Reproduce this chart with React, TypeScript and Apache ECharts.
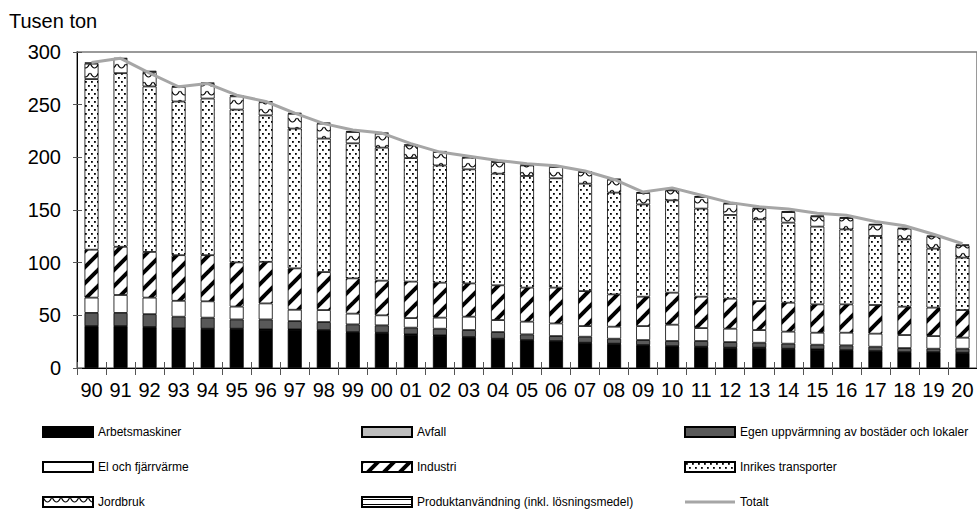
import React, { useEffect, useRef } from 'react';
import * as echarts from 'echarts';

const years = ['90','91','92','93','94','95','96','97','98','99','00','01','02','03','04','05','06','07','08','09','10','11','12','13','14','15','16','17','18','19','20'];

const arbetsmaskiner = [39.5,39.5,38.6,37.3,37,37,36.4,36.4,35.7,33.8,33.2,31.6,30.7,29.1,27.5,26.2,25.3,23.7,22.8,21.5,20.5,19.9,19,19,18,17.4,16.7,15.8,14.8,14.8,14.2];
const avfall = [0.3,0.3,0.3,0.3,0.3,0.3,0.3,0.3,0.3,0.3,0.3,0.3,0.3,0.3,0.3,0.3,0.3,0.3,0.3,0.3,0.3,0.3,0.3,0.3,0.3,0.3,0.3,0.3,0.3,0.3,0.3];
const egenUppvarmning = [12.5,12.5,12.2,11.1,10.5,8.8,9.4,7.8,7.6,7.3,7,6.4,6.3,6.6,6.3,5.4,4.7,5.7,4.7,4.7,4.8,5.4,5.3,4.7,4.8,4.4,4.5,4.1,3.8,3.2,3.8];
const elOchFjarrvarme = [14.5,17,15.7,15.1,15.5,12.2,15.2,10.8,11.4,10.2,9.5,9.1,10.5,12.7,11.4,12.1,12,10.1,11.4,13.3,15.5,12.3,12.7,12,11.4,11.4,12,12.4,12.4,12,10.5];
const industri = [45.5,45.8,43.4,43.3,43.8,42,39.5,39.3,36.1,33.5,32.9,34.6,33.2,31.6,33,32.3,34,33.2,30.7,27.9,30.4,29.8,28.5,27.5,27.5,26.9,26.9,27.2,26.9,27,26.2];
const inrikesTransporter = [162,164.8,157.1,145.9,148.7,145,139,132.7,126.7,128.2,126.3,117.3,111.3,108.3,106,106,103.8,102,96.6,87.6,87.7,83.6,79.5,77.6,76,73.8,71.2,65.5,63.9,56,49.8];
const jordbruk = [14.6,13.4,13.7,13.8,14.1,12.6,12.5,14,14.2,10.7,13.3,12,12.7,11.1,11,10,10.7,11,12.3,10.8,9.4,11,10.7,10.2,10,9.7,10.7,10.7,10.2,11.6,11.6];
const produktanvandning = [1.2,1.2,1.2,1.1,1.1,1.1,1.1,1,1,1,1,1,1,1,1,0.9,0.9,0.9,0.9,0.9,0.9,0.9,0.9,0.8,0.8,0.8,0.8,0.8,0.8,0.8,0.8];
const totalt = [290,294,280,267,270,259,253,242,232,226,223,213,205,201,197,194,192,187,179,167,171,164,157,153,151,147,145,139,135,127,118];

const yTicks = { min: 0, max: 300, interval: 50 };

const FONT = 'Arial, "Liberation Sans", Helvetica, sans-serif';

function makePattern(w: number, h: number, draw: (ctx: CanvasRenderingContext2D) => void) {
  const c = document.createElement('canvas');
  c.width = w;
  c.height = h;
  const ctx = c.getContext('2d') as CanvasRenderingContext2D;
  ctx.fillStyle = '#ffffff';
  ctx.fillRect(0, 0, w, h);
  draw(ctx);
  return { image: c, repeat: 'repeat', imageWidth: w, imageHeight: h } as any;
}

export default function App() {
  const ref = useRef<HTMLDivElement>(null);

  useEffect(() => {
    if (!ref.current) return;
    const chart = echarts.init(ref.current, undefined, { renderer: 'svg' });

    const dots = makePattern(6, 8, (ctx) => {
      ctx.fillStyle = '#000';
      ctx.fillRect(1, 1, 1.8, 1.8);
      ctx.fillRect(4, 5, 1.8, 1.8);
    });
    const hatch = makePattern(16, 16, (ctx) => {
      ctx.strokeStyle = '#000';
      ctx.lineWidth = 4;
      ctx.beginPath();
      ctx.moveTo(-2, 18);
      ctx.lineTo(18, -2);
      ctx.stroke();
      ctx.beginPath();
      ctx.moveTo(-10, 10);
      ctx.lineTo(10, -10);
      ctx.stroke();
      ctx.beginPath();
      ctx.moveTo(6, 26);
      ctx.lineTo(26, 6);
      ctx.stroke();
    });
    const waves = makePattern(9, 9, (ctx) => {
      ctx.strokeStyle = '#000';
      ctx.lineWidth = 1.1;
      ctx.beginPath();
      ctx.moveTo(0.5, 1);
      ctx.quadraticCurveTo(4.5, 9, 8.5, 1);
      ctx.stroke();
    });
    const hlines = makePattern(4, 5, (ctx) => {
      ctx.fillStyle = '#000';
      ctx.fillRect(0, 2, 4, 1);
    });

    const border = { borderColor: '#000', borderWidth: 0.8 };
    const barBase = {
      type: 'bar',
      stack: 'total',
      barWidth: 14,
      xAxisIndex: 0,
      yAxisIndex: 0,
    };

    const legendText = { fontSize: 12, color: '#000', fontFamily: FONT, lineHeight: 12 };
    const legendBase = {
      orient: 'vertical',
      top: 426,
      itemWidth: 50,
      itemHeight: 10,
      itemGap: 23,
      icon: 'rect',
      selectedMode: false,
      textStyle: legendText,
      padding: 0,
    };

    chart.setOption({
      animation: false,
      backgroundColor: '#fff',
      title: {
        text: 'Tusen ton',
        left: 9,
        top: 11,
        padding: 0,
        textStyle: { fontSize: 20, fontWeight: 'normal', color: '#000', fontFamily: FONT },
      },
      legend: [
        { ...legendBase, left: 42, data: ['Arbetsmaskiner', 'El och fjärrvärme', 'Jordbruk'] },
        { ...legendBase, left: 361, data: ['Avfall', 'Industri', 'Produktanvändning (inkl. lösningsmedel)'] },
        {
          ...legendBase,
          left: 684,
          data: [
            'Egen uppvärmning av bostäder och lokaler',
            'Inrikes transporter',
            { name: 'Totalt', icon: 'path://M0,0 L50,0 L50,3 L0,3 Z', itemStyle: { color: '#a6a6a6', borderWidth: 0 } },
          ],
        },
      ],
      grid: {
        left: 77,
        top: 52,
        right: -4,
        bottom: 141,
        show: true,
        borderColor: '#7a7a7a',
        borderWidth: 1.5,
        backgroundColor: 'transparent',
      },
      xAxis: [
        {
          type: 'category',
          data: years,
          axisLine: { lineStyle: { color: '#000', width: 1 } },
          axisTick: { show: true, length: 7, lineStyle: { color: '#555' } },
          axisLabel: { fontSize: 20, color: '#000', fontFamily: FONT, margin: 12, interval: 0 },
        },
        {
          type: 'category',
          data: years,
          position: 'bottom',
          axisLine: { show: false },
          axisTick: { show: true, inside: true, length: 6, lineStyle: { color: '#555' } },
          axisLabel: { show: false },
        },
      ],
      yAxis: [
        {
          type: 'value',
          ...yTicks,
          axisLine: { show: true, lineStyle: { color: '#000', width: 1 } },
          axisTick: { show: true, length: 4, lineStyle: { color: '#555' } },
          axisLabel: { fontSize: 20, color: '#000', fontFamily: FONT, margin: 16 },
          splitLine: { show: false },
        },
        {
          type: 'value',
          position: 'left',
          ...yTicks,
          axisLine: { show: false },
          axisTick: { show: true, inside: true, length: 5, lineStyle: { color: '#555' } },
          axisLabel: { show: false },
          splitLine: { show: false },
        },
      ],
      series: [
        { ...barBase, name: 'Arbetsmaskiner', data: arbetsmaskiner, itemStyle: { color: '#000', ...border } },
        { ...barBase, name: 'Avfall', data: avfall, itemStyle: { color: '#bdbdbd', ...border } },
        { ...barBase, name: 'Egen uppvärmning av bostäder och lokaler', data: egenUppvarmning, itemStyle: { color: '#595959', ...border } },
        { ...barBase, name: 'El och fjärrvärme', data: elOchFjarrvarme, itemStyle: { color: '#fff', ...border } },
        { ...barBase, name: 'Industri', data: industri, itemStyle: { color: hatch, ...border } },
        { ...barBase, name: 'Inrikes transporter', data: inrikesTransporter, itemStyle: { color: dots, ...border } },
        { ...barBase, name: 'Jordbruk', data: jordbruk, itemStyle: { color: waves, ...border } },
        { ...barBase, name: 'Produktanvändning (inkl. lösningsmedel)', data: produktanvandning, itemStyle: { color: hlines, ...border } },
        {
          type: 'line',
          name: 'Totalt',
          data: totalt,
          xAxisIndex: 0,
          yAxisIndex: 0,
          symbol: 'none',
          showSymbol: false,
          z: 10,
          lineStyle: { color: '#a6a6a6', width: 3 },
          itemStyle: { color: '#a6a6a6' },
        },
      ],
    });

    return () => chart.dispose();
  }, []);

  return (
    <div
      ref={ref}
      style={{ position: 'absolute', left: 0, top: 0, width: 977, height: 509 }}
    />
  );
}
